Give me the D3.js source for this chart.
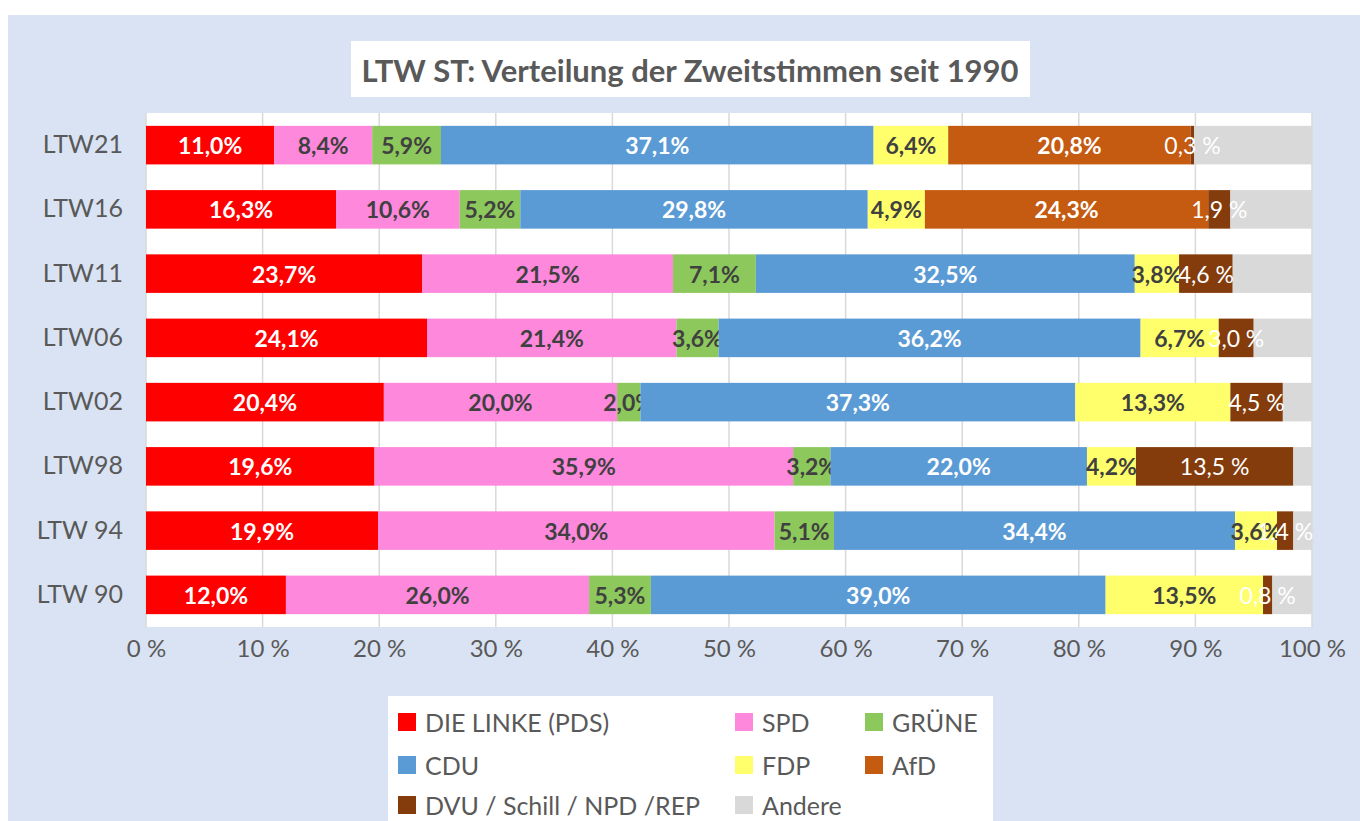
<!DOCTYPE html>
<html>
<head>
<meta charset="utf-8">
<script src="https://cdn.jsdelivr.net/npm/d3@7"></script>
<style>
  body { margin: 0; background: #fff; }
  svg { display: block; font-family: Lato, "Open Sans", sans-serif; }
</style>
</head>
<body>
<svg id="chart"></svg>
<script>
const categories = ["LTW21", "LTW16", "LTW11", "LTW06", "LTW02", "LTW98", "LTW 94", "LTW 90"];
const parties = ["DIE LINKE (PDS)", "SPD", "GRÜNE", "CDU", "FDP", "AfD", "DVU / Schill / NPD /REP", "Andere"];
const linke  = [11.0, 16.3, 23.7, 24.1, 20.4, 19.6, 19.9, 12.0];
const spd    = [8.4, 10.6, 21.5, 21.4, 20.0, 35.9, 34.0, 26.0];
const gruene = [5.9, 5.2, 7.1, 3.6, 2.0, 3.2, 5.1, 5.3];
const cdu    = [37.1, 29.8, 32.5, 36.2, 37.3, 22.0, 34.4, 39.0];
const fdp    = [6.4, 4.9, 3.8, 6.7, 13.3, 4.2, 3.6, 13.5];
const afd    = [20.8, 24.3, 0, 0, 0, 0, 0, 0];
const dvu    = [0.3, 1.9, 4.6, 3.0, 4.5, 13.5, 1.4, 0.8];
const andere = [10.1, 7.0, 6.8, 5.0, 2.5, 1.6, 1.6, 3.4];
const ticks = [0, 10, 20, 30, 40, 50, 60, 70, 80, 90, 100];

const colors = ["#ff0000", "#fd88dc", "#8cc85b", "#5b9bd5", "#ffff6b", "#c55a11", "#843c0c", "#d9d9d9"];
const labelColors = ["#fff", "#404040", "#404040", "#fff", "#404040", "#fff", "#fff", null];

const series = [linke, spd, gruene, cdu, fdp, afd, dvu, andere];
const rows = categories.map((c, i) => {
    const r = { cat: c };
    parties.forEach((p, j) => r[p] = series[j][i]);
    return r;
});

const width = 1360, height = 821;
const svg = d3.select("#chart").attr("width", width).attr("height", height);

// background panel
svg.append("rect").attr("x", 8).attr("y", 15).attr("width", width - 8).attr("height", height - 15)
    .attr("fill", "#dae3f3");

// title
svg.append("rect").attr("x", 351).attr("y", 41).attr("width", 679).attr("height", 56).attr("fill", "#fff");
svg.append("text").attr("x", 690).attr("y", 70)
    .attr("text-anchor", "middle").attr("dominant-baseline", "central")
    .attr("font-size", 31).attr("font-weight", "bold").attr("fill", "#595959")
    .text("LTW ST: Verteilung der Zweitstimmen seit 1990");

const x = d3.scaleLinear().domain([0, 100]).range([146, 1312]);
const y = d3.scaleBand().domain(categories).range([113, 627]).paddingInner(0.4).paddingOuter(0.2);

// plot area + grid
svg.append("rect").attr("x", x(0)).attr("y", 113).attr("width", x(100) - x(0)).attr("height", 514).attr("fill", "#fff");
svg.append("g").selectAll("line").data(ticks).join("line")
    .attr("x1", d => x(d)).attr("x2", d => x(d))
    .attr("y1", 113).attr("y2", 627)
    .attr("stroke", "#d9d9d9").attr("stroke-width", 1.5);

const stacked = d3.stack().keys(parties)(rows);
const fmt = (d, sep) => (d[1] - d[0]).toFixed(1).replace(".", ",") + sep;

// bars and labels, series by series; DVU labels go on top of everything
stacked.forEach((layer, k) => {
    const g = svg.append("g");
    g.selectAll("rect").data(layer).join("rect")
        .attr("x", d => x(d[0]))
        .attr("y", d => y(d.data.cat))
        .attr("width", d => x(d[1]) - x(d[0]))
        .attr("height", y.bandwidth())
        .attr("fill", colors[k]);
    if (!labelColors[k] || k === 6) return;
    g.selectAll("text").data(layer.filter(d => d[1] - d[0] > 0)).join("text")
        .attr("x", d => (x(d[0]) + x(d[1])) / 2)
        .attr("y", d => y(d.data.cat) + y.bandwidth() / 2)
        .attr("text-anchor", "middle").attr("dominant-baseline", "central")
        .attr("font-size", 23).attr("font-weight", "bold")
        .attr("fill", labelColors[k])
        .text(d => fmt(d, "%"));
});

svg.append("g").selectAll("text").data(stacked[6]).join("text")
    .attr("x", d => (x(d[0]) + x(d[1])) / 2)
    .attr("y", d => y(d.data.cat) + y.bandwidth() / 2)
    .attr("text-anchor", "middle").attr("dominant-baseline", "central")
    .attr("font-size", 23)
    .attr("fill", "#fff")
    .text(d => fmt(d, " %"));

// axes
const xAxis = svg.append("g")
    .attr("transform", "translate(0,627)")
    .call(d3.axisBottom(x).tickValues(ticks).tickFormat(d => d + " %").tickSize(0).tickPadding(13));
xAxis.select(".domain").remove();
xAxis.selectAll("text").attr("font-size", 24).attr("fill", "#595959").attr("font-family", "Lato, sans-serif");

const yAxis = svg.append("g")
    .attr("transform", "translate(123,0)")
    .call(d3.axisLeft(y).tickSize(0).tickPadding(0));
yAxis.select(".domain").remove();
yAxis.selectAll("text").attr("font-size", 25).attr("fill", "#595959").attr("font-family", "Lato, sans-serif");

// legend
svg.append("rect").attr("x", 388).attr("y", 696).attr("width", 605).attr("height", 130).attr("fill", "#fff");
const legendPos = [[398, 722], [735, 722], [865, 722], [398, 765], [735, 765], [865, 765], [398, 805], [735, 805]];
const legend = svg.append("g").selectAll("g").data(parties).join("g")
    .attr("transform", (d, i) => `translate(${legendPos[i][0]},${legendPos[i][1]})`);
legend.append("rect").attr("x", 0).attr("y", -9).attr("width", 18).attr("height", 18)
    .attr("fill", (d, i) => colors[i]);
legend.append("text").attr("x", 27).attr("y", 0).attr("dominant-baseline", "central")
    .attr("font-size", 25).attr("fill", "#595959").text(d => d);
</script>
</body>
</html>
